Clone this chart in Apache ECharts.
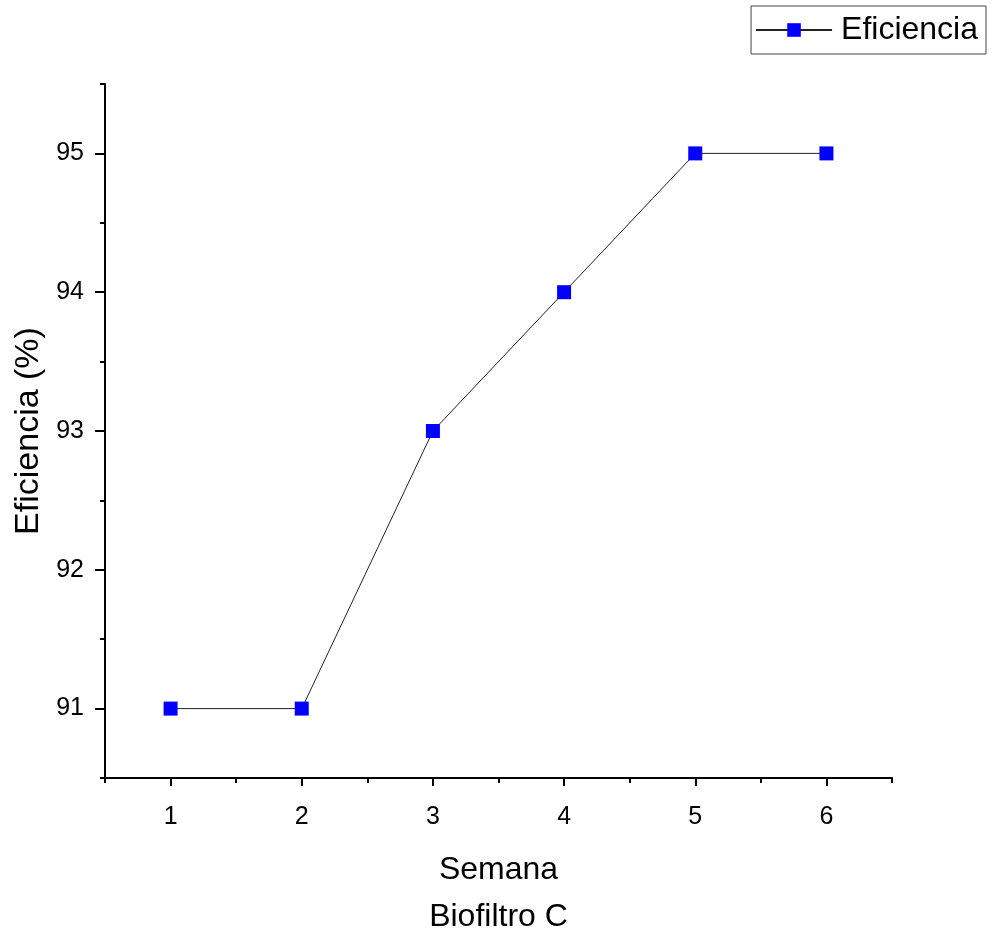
<!DOCTYPE html>
<html>
<head>
<meta charset="utf-8">
<script src="https://cdn.jsdelivr.net/npm/echarts@6/dist/echarts.min.js"></script>
<style>
  html, body { margin: 0; padding: 0; background: #fff; }
  #chart { width: 992px; height: 931px; }
</style>
</head>
<body>
<div id="chart"></div>
<script>
// semana
var weeks = [1, 2, 3, 4, 5, 6];
// eficiencia (%)
var efficiency = [91, 91, 93, 94, 95, 95];
var xMajor = [1, 2, 3, 4, 5, 6];
var xMinor = [0.5, 1.5, 2.5, 3.5, 4.5, 5.5, 6.5];
var yMajor = [91, 92, 93, 94, 95];
var yMinor = [90.5, 91.5, 92.5, 93.5, 94.5, 95.5];

var font = "Liberation Sans, Arial, sans-serif";
var chart = echarts.init(document.getElementById("chart"));

var points = weeks.map(function (w, i) { return [w, efficiency[i]]; });

var axisLine = { show: true, lineStyle: { color: "#000", width: 2 } };

var options = {
  animation: false,
  grid: { left: 105, right: 100, top: 84, bottom: 153, containLabel: false, outerBoundsMode: "none" },
  legend: {
    right: 6,
    top: 6,
    padding: [8, 8, 8, 4],
    borderColor: "#444",
    borderWidth: 1,
    itemWidth: 76,
    itemHeight: 17,
    textStyle: { fontFamily: font, fontSize: 32, color: "#000", padding: [0, 0, 0, 4] },
    data: ["Eficiencia"],
  },
  xAxis: [
    {
      type: "value",
      min: 0.5,
      max: 6.5,
      name: "Semana\nBiofiltro C",
      nameLocation: "middle",
      nameGap: 69,
      nameTextStyle: { fontFamily: font, fontSize: 32, color: "#000", lineHeight: 47, verticalAlign: "top" },
      axisLine: axisLine,
      axisTick: { show: true, length: 8, customValues: xMajor, lineStyle: { color: "#000", width: 2 } },
      axisLabel: { customValues: xMajor, margin: 27, fontFamily: font, fontSize: 25, color: "#000" },
      splitLine: { show: false },
    },
    {
      type: "value",
      min: 0.5,
      max: 6.5,
      position: "bottom",
      axisLine: { show: false },
      axisTick: { show: true, length: 5, customValues: xMinor, lineStyle: { color: "#000", width: 2 } },
      axisLabel: { show: false },
      splitLine: { show: false },
    },
  ],
  yAxis: [
    {
      type: "value",
      min: 90.5,
      max: 95.5,
      name: "Eficiencia (%)",
      nameLocation: "middle",
      nameGap: 57,
      nameTextStyle: { fontFamily: font, fontSize: 34, color: "#000" },
      axisLine: axisLine,
      axisTick: { show: true, length: 10, customValues: yMajor, lineStyle: { color: "#000", width: 2 } },
      axisLabel: { customValues: yMajor, margin: 21, fontFamily: font, fontSize: 25, color: "#000" },
      splitLine: { show: false },
    },
    {
      type: "value",
      min: 90.5,
      max: 95.5,
      position: "left",
      axisLine: { show: false },
      axisTick: { show: true, length: 5, customValues: yMinor, lineStyle: { color: "#000", width: 2 } },
      axisLabel: { show: false },
      splitLine: { show: false },
    },
  ],
  series: [
    {
      name: "Eficiencia",
      type: "line",
      data: points,
      symbol: "rect",
      symbolSize: 14,
      itemStyle: { color: "#0000ff" },
      lineStyle: { color: "#222", width: 1 },
    },
  ],
};
chart.setOption(options);
</script>
</body>
</html>
